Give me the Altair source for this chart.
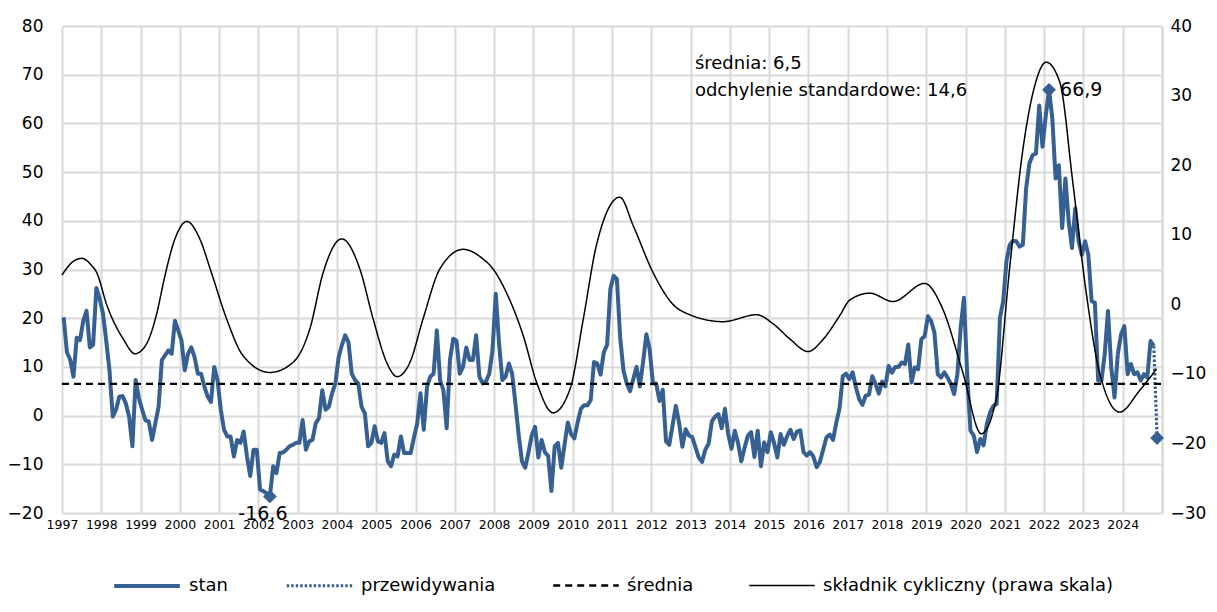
import altair as alt
import pandas as pd

FONT = "DejaVu Sans"
BLUE = "#376092"
GRID = "#d9d9d9"

# ---- monthly values of "stan" (left axis), Jan 1997 .. Oct 2024 ----
stan_1997 = [20.2, 13.0, 11.5, 8.0, 16.0, 15.5, 19.5, 21.5, 14.0, 14.5, 26.2, 24.0]
stan_1998 = [21.0, 15.4, 9.3, -0.2, 1.2, 3.9, 4.0, 2.5, -0.2, -6.3, 7.3, 3.5]
stan_1999 = [1.2, -1.0, -1.2, -5.0, -1.6, 1.8, 11.4, 12.4, 13.4, 12.7, 19.5, 17.5]
stan_2000 = [15.4, 9.3, 12.7, 14.0, 12.0, 8.6, 8.6, 5.9, 3.9, 2.8, 10.0, 7.3]
stan_2001 = [1.2, -2.9, -4.3, -4.3, -8.4, -5.0, -5.6, -3.3, -8.4, -12.4, -7.0, -7.0]
stan_2002 = [-15.2, -15.5, -16.0, -16.6, -10.4, -11.8, -7.7, -7.6, -7.0, -6.3, -6.0, -5.6]
stan_2003 = [-5.6, -0.9, -7.0, -5.3, -5.0, -1.6, -0.5, 5.2, 1.2, 1.8, 4.6, 6.6]
stan_2004 = [12.0, 14.5, 16.5, 15.1, 8.6, 7.3, 6.6, 1.8, 0.5, -6.3, -5.6, -2.2]
stan_2005 = [-5.3, -5.6, -3.6, -9.4, -10.4, -8.0, -8.4, -4.3, -7.7, -7.7, -7.7, -4.5]
stan_2006 = [-1.6, 4.6, -2.9, 5.9, 8.0, 8.6, 17.5, 7.3, 5.2, -2.6, 11.4, 15.8]
stan_2007 = [15.4, 8.6, 10.0, 14.0, 11.4, 11.4, 16.5, 8.0, 6.6, 7.0, 8.6, 13.4]
stan_2008 = [25.0, 14.8, 7.3, 8.0, 10.7, 8.6, 2.5, -4.0, -9.4, -10.7, -7.5, -4.0]
stan_2009 = [-2.3, -8.6, -5.0, -7.5, -8.3, -15.5, -6.3, -5.6, -10.7, -6.0, -1.4, -3.8]
stan_2010 = [-4.7, -1.4, 1.4, 2.1, 2.1, 3.2, 11.0, 10.7, 8.4, 13.0, 14.5, 26.0]
stan_2011 = [28.7, 28.0, 16.0, 9.3, 6.6, 5.0, 7.5, 10.0, 6.0, 11.0, 16.7, 13.6]
stan_2012 = [6.6, 6.6, 3.0, 5.3, -5.3, -6.0, -2.0, 2.0, -1.5, -6.4, -2.8, -4.1]
stan_2013 = [-4.4, -6.5, -8.6, -9.5, -7.0, -5.8, -1.2, -0.2, 0.3, -2.6, 1.4, -3.8]
stan_2014 = [-6.8, -3.1, -5.6, -9.4, -6.6, -4.1, -3.4, -8.5, -3.1, -10.4, -5.5, -7.5]
stan_2015 = [-3.4, -5.6, -8.6, -3.8, -6.0, -4.2, -2.9, -4.8, -3.3, -3.0, -7.5, -8.2]
stan_2016 = [-7.5, -8.4, -10.6, -9.5, -7.0, -4.5, -3.9, -5.0, -1.5, 1.5, 8.1, 8.6]
stan_2017 = [7.5, 8.9, 5.8, 3.4, 2.2, 4.1, 4.3, 8.1, 6.5, 4.5, 7.0, 6.0]
stan_2018 = [10.2, 8.8, 10.0, 10.0, 10.9, 10.6, 14.6, 6.8, 9.9, 9.5, 15.7, 16.3]
stan_2019 = [20.4, 19.4, 17.0, 8.5, 7.8, 8.9, 7.8, 6.5, 4.4, 8.5, 18.0, 24.2]
stan_2020 = [8.5, -3.1, -4.1, -7.5, -4.8, -6.1, -1.7, 0.7, 2.0, 2.4, 20.1, 23.5]
stan_2021 = [31.7, 35.1, 35.9, 35.8, 34.7, 35.1, 46.7, 51.8, 53.5, 53.8, 63.7, 55.2]
stan_2022 = [61.6, 66.9, 61.0, 48.7, 51.4, 38.5, 48.7, 39.9, 34.4, 42.6, 36.0, 33.0]
stan_2023 = [35.8, 33.0, 23.5, 23.2, 7.2, 7.2, 12.6, 21.5, 9.9, 3.7, 12.6, 16.7]
stan_2024 = [18.4, 8.5, 10.6, 8.5, 8.9, 7.2, 8.5, 7.8, 15.3, 14.3]

forecast_value = -4.6      # przewidywania (next month)
mean_value = 6.5
std_value = 14.6

# ---- cyclical component (right axis), read at key dates ----
cyc_t = [1997.0, 1997.25, 1997.5, 1997.75, 1997.88, 1998.14, 1998.56, 1998.86, 1999.15, 1999.4,
         1999.62, 1999.85, 2000.18, 2000.5, 2000.8, 2001.19, 2001.61, 2002.29, 2002.89, 2003.31,
         2003.65, 2004.12, 2004.58, 2004.92, 2005.26, 2005.53, 2005.86, 2006.19, 2006.62, 2007.21,
         2007.72, 2007.97, 2008.31, 2008.74, 2009.08, 2009.5, 2009.93, 2010.27, 2010.6, 2011.2,
         2011.54, 2012.05, 2012.55, 2012.98, 2013.83, 2014.68, 2015.1, 2015.53, 2015.99, 2016.38,
         2016.8, 2017.05, 2017.56, 2018.15, 2018.96, 2019.42, 2019.93, 2020.4, 2020.78, 2021.12,
         2021.46, 2021.76, 2022.05, 2022.4, 2022.73, 2023.07, 2023.41, 2023.92, 2024.43, 2024.86]
cyc_v = [4.2, 6.0, 6.6, 5.6, 4.6, -0.1, -5.0, -7.1, -5.7, -1.6,
         4.1, 9.0, 11.9, 9.5, 4.6, -2.1, -7.4, -9.8, -8.3, -3.5,
         4.6, 9.4, 5.1, -2.1, -8.3, -10.4, -8.3, -2.1, 5.1, 7.9,
         6.5, 5.1, 1.7, -4.5, -11.2, -15.6, -12.2, -2.1, 8.4, 15.4,
         11.3, 4.5, 0.0, -1.5, -2.5, -1.5, -2.8, -5.0, -6.8, -5.0,
         -1.6, 0.6, 1.6, 0.4, 3.0, -0.7, -9.8, -18.6, -13.6, 5.1,
         22.3, 31.4, 34.8, 31.9, 17.5, 1.7, -9.8, -15.5, -12.4, -9.3]

years = list(range(1997, 2025))
left_ticks = list(range(-20, 81, 10))
right_ticks = list(range(-30, 41, 10))

SERIES = ["stan", "przewidywania", "średnia", "składnik cykliczny (prawa skala)"]

stan_values = (stan_1997 + stan_1998 + stan_1999 + stan_2000 + stan_2001 + stan_2002 + stan_2003
               + stan_2004 + stan_2005 + stan_2006 + stan_2007 + stan_2008 + stan_2009 + stan_2010
               + stan_2011 + stan_2012 + stan_2013 + stan_2014 + stan_2015 + stan_2016 + stan_2017
               + stan_2018 + stan_2019 + stan_2020 + stan_2021 + stan_2022 + stan_2023 + stan_2024)


def month_t(i):
    return 1997 + (i + 0.5) / 12


rows = []
for i, v in enumerate(stan_values):
    rows.append({"t": month_t(i), "v": v, "series": "stan"})
last = len(stan_values) - 1
rows.append({"t": month_t(last), "v": stan_values[last], "series": "przewidywania"})
rows.append({"t": month_t(last + 1), "v": forecast_value, "series": "przewidywania"})
rows.append({"t": years[0], "v": mean_value, "series": "średnia"})
rows.append({"t": years[-1] + 1, "v": mean_value, "series": "średnia"})
left_df = pd.DataFrame(rows)

imin = min(range(len(stan_values)), key=lambda k: stan_values[k])
imax = max(range(len(stan_values)), key=lambda k: stan_values[k])


def fmt(v):
    return f"{v:.1f}".replace(".", ",")


marks_df = pd.DataFrame([
    {"t": month_t(imin), "v": stan_values[imin], "label": fmt(stan_values[imin]), "kind": "min"},
    {"t": month_t(imax), "v": stan_values[imax], "label": fmt(stan_values[imax]), "kind": "max"},
    {"t": month_t(last + 1), "v": forecast_value, "label": "", "kind": "fc"},
])

stats_df = pd.DataFrame([
    {"t": 2013.11, "v": 72.2, "label": f"średnia: {fmt(mean_value)}"},
    {"t": 2013.11, "v": 66.6, "label": f"odchylenie standardowe: {fmt(std_value)}"},
])

cyc_df = pd.DataFrame({"t": cyc_t, "r": cyc_v, "series": SERIES[3]})

legend = alt.Legend(
    title=None, orient="none", legendX=50, legendY=525, direction="horizontal",
    symbolType="stroke", symbolSize=4300, labelFont=FONT, labelFontSize=18,
    labelColor="black", columnPadding=52, labelOffset=7, labelLimit=500,
)

color = alt.Color("series:N", scale=alt.Scale(domain=SERIES, range=[BLUE, BLUE, "black", "black"]), legend=legend)
dash = alt.StrokeDash("series:N", scale=alt.Scale(domain=SERIES, range=[[1, 0], [2.5, 2], [7, 5], [1, 0]]), legend=legend)
width = alt.StrokeWidth("series:N", scale=alt.Scale(domain=SERIES, range=[4, 1.5, 1.5, 1.5]), legend=legend)

x_enc = alt.X(
    "t:Q",
    scale=alt.Scale(domain=[years[0], years[-1] + 1], nice=False, zero=False),
    axis=alt.Axis(
        values=years + [years[-1] + 1], format="d",
        labelExpr="datum.value > 2024 ? '' : datum.label",
        grid=True, gridColor=GRID, gridWidth=2, domain=False, ticks=False,
        labelFont=FONT, labelFontSize=12.5, labelColor="black", labelPadding=5,
        labelFlush=False, labelOverlap=False, labelBound=False, labelSeparation=0, title=None,
    ),
)

y_left = alt.Y(
    "v:Q",
    scale=alt.Scale(domain=[-20, 80], nice=False, zero=False),
    axis=alt.Axis(
        values=left_ticks, grid=True, gridColor=GRID, gridWidth=2, domain=False, ticks=False,
        labelFont=FONT, labelFontSize=17, labelColor="black", labelPadding=19, title=None,
    ),
)

lines = alt.Chart(left_df).mark_line(strokeJoin="round").encode(
    x=x_enc, y=y_left, color=color, strokeDash=dash, strokeWidth=width, detail="series:N",
)

points = alt.Chart(marks_df).mark_point(shape="diamond", filled=True, size=190, color=BLUE, opacity=1).encode(
    x=x_enc, y=y_left,
)

min_text = alt.Chart(marks_df).transform_filter("datum.kind == 'min'").mark_text(
    font=FONT, fontSize=19, color="black", dx=-7, dy=18, align="center", baseline="middle",
).encode(x=x_enc, y=y_left, text="label:N")

max_text = alt.Chart(marks_df).transform_filter("datum.kind == 'max'").mark_text(
    font=FONT, fontSize=19, color="black", dx=11, dy=0, align="left", baseline="middle",
).encode(x=x_enc, y=y_left, text="label:N")

stats_text = alt.Chart(stats_df).mark_text(
    font=FONT, fontSize=18, color="black", align="left", baseline="middle",
).encode(x=x_enc, y=y_left, text="label:N")

left = alt.layer(lines, points, min_text, max_text, stats_text)

right = alt.Chart(cyc_df).mark_line(interpolate="monotone").encode(
    x=x_enc,
    y=alt.Y(
        "r:Q",
        scale=alt.Scale(domain=[-30, 40], nice=False, zero=False),
        axis=alt.Axis(
            orient="right", values=right_ticks, grid=False, domain=True, domainColor=GRID,
            domainWidth=2, ticks=False, labelFont=FONT, labelFontSize=17, labelColor="black",
            labelPadding=8, title=None,
        ),
    ),
    color=color, strokeDash=dash, strokeWidth=width,
)

chart = alt.layer(left, right).resolve_scale(y="independent").properties(
    width=1100, height=487,
    padding={"left": 54, "top": 18, "right": 47, "bottom": 89},
    autosize=alt.AutoSizeParams(type="none"),
    background="white",
).configure_view(stroke=None).configure_axis(labelOverlap=False)

chart.save("out.html", embed_options={"renderer": "svg", "actions": False})
